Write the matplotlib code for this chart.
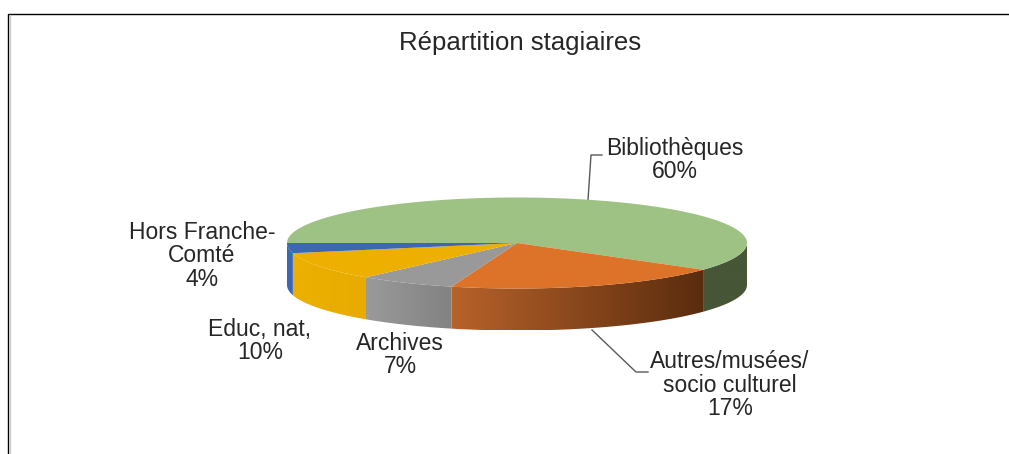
import numpy as np
from matplotlib import pyplot as plt
from matplotlib.patches import Polygon
from matplotlib.colors import LinearSegmentedColormap

plt.rcParams['font.family'] = ['Liberation Sans', 'DejaVu Sans']

title = 'Répartition stagiaires'
names = ['Bibliothèques', 'Autres/musées/\nsocio culturel', 'Archives', 'Educ, nat,', 'Hors Franche-\nComté']
label_pct = [60, 17, 7, 10, 4]
# shares as drawn, the 3D perspective of the picture makes the front slices look bigger than their label
slice_shares = [60.0, 19.6, 6.8, 10.0, 3.6]

top_colors = ['#9DC284', '#DD7329', '#999999', '#EEB000', '#3D67B3']
side_left = ['#465637', '#B8622A', '#9A9A9A', '#EBB000', '#3D67B3']
side_right = ['#465637', '#5A2C0E', '#828282', '#E8AC00', '#3D67B3']
text_pos = [(675, 160), (730, 385), (400, 355), (260, 341), (202, 256)]

# pie position in pixels
cx, cy, rx, ry, depth = 517, 243, 230, 45.5, 42
text_color = '#262626'


def rim(a1, a2):
    t = np.radians(np.linspace(a1, a2, 120))
    return cx + rx * np.cos(t), cy - ry * np.sin(t)


fig = plt.figure(figsize=(10.09, 4.54), dpi=100)
ax = fig.add_axes([0, 0, 1, 1])

start = 180.0
for i in range(len(names)):
    end = start - slice_shares[i] * 3.6
    # outer wall, only the part below the horizontal axis can be seen
    a1, a2 = min(start, 0), max(end, -180)
    if a1 > a2:
        x, y = rim(a1, a2)
        wall = np.vstack([np.column_stack([x, y]), np.column_stack([x[::-1], y[::-1] + depth])])
        cmap = LinearSegmentedColormap.from_list('wall', [side_left[i], side_right[i]])
        im = ax.imshow(np.linspace(0, 1, 256).reshape(1, -1), cmap=cmap, aspect='auto',
                       extent=[x.min(), x.max(), y.max() + depth, y.min()], zorder=2)
        patch = Polygon(wall, transform=ax.transData, fc='none', ec='none')
        ax.add_patch(patch)
        im.set_clip_path(patch)
    # top of the slice
    x, y = rim(start, end)
    ax.fill(np.r_[cx, x], np.r_[cy, y], color=top_colors[i], lw=0, zorder=3)
    start = end

# leader lines
ax.plot([588, 591, 602], [200, 155, 155], color='#595959', lw=1, zorder=1)
ax.plot([592, 636, 648], [330, 372, 372], color='#595959', lw=1, zorder=1)

for i in range(len(names)):
    ax.text(text_pos[i][0], text_pos[i][1], f'{names[i]}\n{label_pct[i]}%', ha='center', va='center',
            fontsize=16.5, color=text_color, linespacing=1.02, zorder=4)

ax.text(520, 43, title, ha='center', va='center', fontsize=18.5, color=text_color)

# chart frame, cut by the picture on the right and at the bottom
ax.plot([8, 8, 1009], [454, 13.5, 13.5], color='black', lw=1)
ax.plot([9.5, 9.5], [454, 15], color='#cccccc', lw=1)

ax.set_xlim(0, 1009)
ax.set_ylim(454, 0)
ax.axis('off')
plt.savefig('out.png', dpi=100)
